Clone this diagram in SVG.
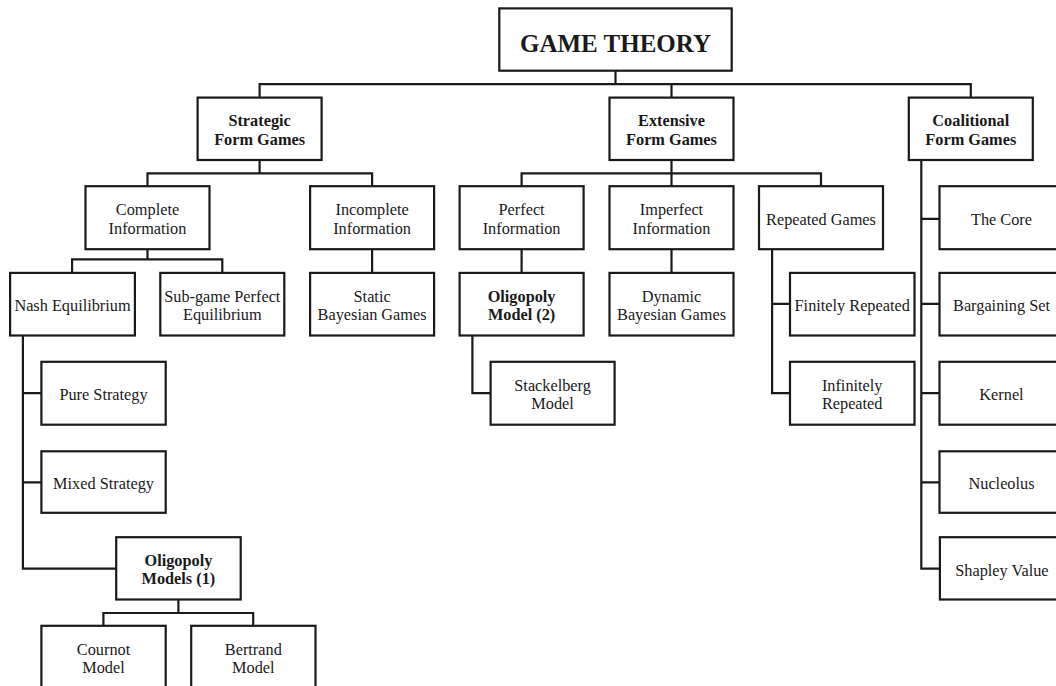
<svg xmlns="http://www.w3.org/2000/svg" width="1056" height="686" viewBox="0 0 1056 686">
<style>
.box{fill:#fff;stroke:#1a1a1a;stroke-width:2.2}
.ln{fill:none;stroke:#1a1a1a;stroke-width:2.2;stroke-linecap:square}
text{font-family:"Liberation Serif","Times New Roman",serif;font-size:16.3px;fill:#1a1a1a;text-anchor:middle}
.b{font-weight:bold}
.t{font-size:25px;font-weight:bold}
</style>
<rect width="1056" height="686" fill="#fff"/>
<g id="connectors">
<path class="ln" d="M615.5 70.7V84.2M259.6 84.2H970.8M259.6 84.2V97.6M671.5 84.2V97.6M970.8 84.2V97.6"/>
<path class="ln" d="M259.6 160V173.4M147.5 173.4H372.1M147.5 173.4V186.2M372.1 173.4V186.2"/>
<path class="ln" d="M671.5 160V173.4M521.6 173.4H821M521.6 173.4V186.2M671.5 173.4V186.2M821 173.4V186.2"/>
<path class="ln" d="M921.3 160V568.6M921.3 218.9H939.5M921.3 303.9H939.5M921.3 393.1H939.5M921.3 482.3H939.5M921.3 568.6H939.9"/>
<path class="ln" d="M147.5 249.2V259.4M72.1 259.4H222.3M72.1 259.4V272.9M222.3 259.4V272.9"/>
<path class="ln" d="M372.1 249.2V272.9M521.6 249.2V272.9M671.5 249.2V272.9"/>
<path class="ln" d="M772.1 249.2V393.1M772.1 303.9H790M772.1 393.1H790"/>
<path class="ln" d="M472.4 335.5V393.1H490.6"/>
<path class="ln" d="M22.9 335.5V568.6H116.2M22.9 393.1H41.4M22.9 482.3H41.4"/>
<path class="ln" d="M178.4 599.5V613M103.4 613H253.2M103.4 613V625.8M253.2 613V625.8"/>
</g>
<g id="game-theory"><rect class="box" x="499.3" y="8.4" width="232.4" height="62.3"/><text class="t" x="615.5" y="51.5">GAME THEORY</text></g>
<g id="strategic"><rect class="box" x="197.6" y="97.6" width="124" height="62.4"/><text class="b" x="259.6" y="126.3">Strategic</text><text class="b" x="259.6" y="144.8">Form Games</text></g>
<g id="extensive"><rect class="box" x="609.5" y="97.6" width="124" height="62.4"/><text class="b" x="671.5" y="126.3">Extensive</text><text class="b" x="671.5" y="144.8">Form Games</text></g>
<g id="coalitional"><rect class="box" x="908.8" y="97.6" width="124" height="62.4"/><text class="b" x="970.8" y="126.3">Coalitional</text><text class="b" x="970.8" y="144.8">Form Games</text></g>
<g id="complete"><rect class="box" x="85.5" y="186.2" width="124" height="63"/><text x="147.5" y="215.2">Complete</text><text x="147.5" y="233.7">Information</text></g>
<g id="incomplete"><rect class="box" x="310.1" y="186.2" width="124" height="63"/><text x="372.1" y="215.2">Incomplete</text><text x="372.1" y="233.7">Information</text></g>
<g id="perfect"><rect class="box" x="459.6" y="186.2" width="124" height="63"/><text x="521.6" y="215.2">Perfect</text><text x="521.6" y="233.7">Information</text></g>
<g id="imperfect"><rect class="box" x="609.5" y="186.2" width="124" height="63"/><text x="671.5" y="215.2">Imperfect</text><text x="671.5" y="233.7">Information</text></g>
<g id="repeated"><rect class="box" x="759" y="186.2" width="124" height="63"/><text x="821" y="224.7">Repeated Games</text></g>
<g id="core"><rect class="box" x="939.5" y="186.2" width="124" height="63"/><text x="1001.5" y="224.7">The Core</text></g>
<g id="nash"><rect class="box" x="10.1" y="272.9" width="124.8" height="62.6"/><text x="72.5" y="311.2">Nash Equilibrium</text></g>
<g id="subgame"><rect class="box" x="160.3" y="272.9" width="124" height="62.6"/><text x="222.3" y="301.7">Sub-game Perfect</text><text x="222.3" y="320.2">Equilibrium</text></g>
<g id="static"><rect class="box" x="310.1" y="272.9" width="124" height="62.6"/><text x="372.1" y="301.7">Static</text><text x="372.1" y="320.2">Bayesian Games</text></g>
<g id="oligopoly2"><rect class="box" x="459.6" y="272.9" width="124" height="62.6"/><text class="b" x="521.6" y="301.7">Oligopoly</text><text class="b" x="521.6" y="320.2">Model (2)</text></g>
<g id="dynamic"><rect class="box" x="609.5" y="272.9" width="124" height="62.6"/><text x="671.5" y="301.7">Dynamic</text><text x="671.5" y="320.2">Bayesian Games</text></g>
<g id="finitely"><rect class="box" x="790" y="272.9" width="124.5" height="62.6"/><text x="852.2" y="311.2">Finitely Repeated</text></g>
<g id="bargaining"><rect class="box" x="939.5" y="272.9" width="124" height="62.6"/><text x="1001.5" y="311.2">Bargaining Set</text></g>
<g id="pure"><rect class="box" x="41.4" y="361.8" width="124.3" height="62.9"/><text x="103.5" y="400">Pure Strategy</text></g>
<g id="stackelberg"><rect class="box" x="490.6" y="361.8" width="124" height="62.9"/><text x="552.6" y="390.6">Stackelberg</text><text x="552.6" y="409.1">Model</text></g>
<g id="infinitely"><rect class="box" x="790" y="361.8" width="124.5" height="62.9"/><text x="852.2" y="390.6">Infinitely</text><text x="852.2" y="409.1">Repeated</text></g>
<g id="kernel"><rect class="box" x="939.5" y="361.8" width="124" height="62.9"/><text x="1001.5" y="400">Kernel</text></g>
<g id="mixed"><rect class="box" x="41.4" y="451.3" width="124.3" height="61.5"/><text x="103.5" y="489.2">Mixed Strategy</text></g>
<g id="nucleolus"><rect class="box" x="939.5" y="451.3" width="124" height="61.5"/><text x="1001.5" y="489.2">Nucleolus</text></g>
<g id="oligopoly1"><rect class="box" x="116.2" y="537.2" width="124.5" height="62.3"/><text class="b" x="178.4" y="565.9">Oligopoly</text><text class="b" x="178.4" y="584.4">Models (1)</text></g>
<g id="shapley"><rect class="box" x="939.9" y="537.2" width="124" height="62.3"/><text x="1001.9" y="575.5">Shapley Value</text></g>
<g id="cournot"><rect class="box" x="41.4" y="625.8" width="124.3" height="62.6"/><text x="103.5" y="654.5">Cournot</text><text x="103.5" y="673">Model</text></g>
<g id="bertrand"><rect class="box" x="191.2" y="625.8" width="124.3" height="62.6"/><text x="253.3" y="654.5">Bertrand</text><text x="253.3" y="673">Model</text></g>
</svg>
